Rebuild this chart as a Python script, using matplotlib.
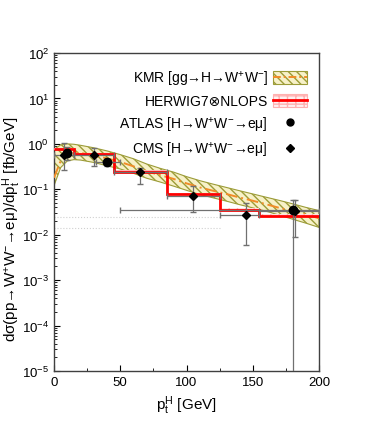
import matplotlib
matplotlib.use("Agg")
import matplotlib.pyplot as plt
from matplotlib.patches import Patch
from matplotlib.lines import Line2D
from matplotlib.ticker import LogLocator, MultipleLocator, NullFormatter

plt.rcParams['font.family'] = ['Liberation Sans', 'DejaVu Sans']
plt.rcParams['mathtext.fontset'] = 'custom'
plt.rcParams['mathtext.rm'] = 'Liberation Sans'
plt.rcParams['mathtext.it'] = 'Liberation Sans'
plt.rcParams['mathtext.default'] = 'regular'

# KMR prediction (central + uncertainty band)
kmr_pt = [0, 5, 10, 15, 20, 30, 40, 50, 60, 70, 80, 90, 100, 110, 120, 130, 140, 150, 160, 170, 180, 190, 200]
kmr_central = [0.18, 0.42, 0.60, 0.65, 0.63, 0.56, 0.48, 0.40, 0.32, 0.25, 0.205, 0.17, 0.135, 0.11, 0.093,
               0.079, 0.066, 0.056, 0.047, 0.039, 0.033, 0.028, 0.023]
kmr_upper = [0.75, 0.95, 1.0, 0.98, 0.93, 0.82, 0.70, 0.58, 0.47, 0.36, 0.29, 0.24, 0.19, 0.155, 0.13,
             0.11, 0.093, 0.079, 0.067, 0.057, 0.048, 0.040, 0.034]
kmr_lower = [0.12, 0.30, 0.42, 0.45, 0.44, 0.39, 0.33, 0.28, 0.225, 0.175, 0.145, 0.118, 0.095, 0.077, 0.065,
             0.055, 0.046, 0.039, 0.033, 0.027, 0.022, 0.018, 0.0145]

# HERWIG7 (x) NLOPS histogram
hw_edges = [0, 15, 45, 85, 125, 155, 200]
hw_values = [0.77, 0.60, 0.245, 0.079, 0.0355, 0.0262]

# ATLAS data
atlas_x = [10, 40, 180]
atlas_y = [0.62, 0.39, 0.035]
atlas_ylo = [0.45, 0.33, 1e-7]
atlas_yhi = [0.85, 0.46, 0.059]
atlas_xlo = [0, 8, 130]
atlas_xhi = [0, 10, 120]

# CMS data
cms_x = [7.5, 30, 65, 105, 145, 182]
cms_y = [0.57, 0.58, 0.237, 0.072, 0.0275, 0.033]
cms_ylo = [0.27, 0.32, 0.13, 0.031, 0.0059, 0.0088]
cms_yhi = [1.05, 0.81, 0.29, 0.116, 0.049, 0.059]
cms_bins = [(0, 15), (15, 45), (45, 85), (85, 125), (125, 155), (155, 200)]

fig = plt.figure(figsize=(3.74, 4.27), dpi=100)
ax = fig.add_axes([0.1444, 0.1288, 0.7086, 0.7447])

# faint dotted guide lines
ax.hlines([0.024, 0.0138], 0, 125, colors='#d0d0d0', linestyles=':', lw=0.8)

ax.fill_between(kmr_pt, kmr_lower, kmr_upper, facecolor='#f7f1c8', edgecolor='#9c9c38',
                hatch='\\\\\\\\', lw=0.8, zorder=2)
ax.plot(kmr_pt, kmr_central, color='#f08c28', lw=1.4, ls=(0, (6, 2, 1, 2)), zorder=3)

hw_lo = [v * 0.93 for v in hw_values]
hw_hi = [v * 1.07 for v in hw_values]
ax.stairs(hw_hi, hw_edges, baseline=hw_lo, fill=True, facecolor='#ffe0e0', edgecolor='#ffb0b0',
          hatch='++', lw=0, zorder=3)
ax.stairs(hw_values, hw_edges, baseline=None, color='#ff0000', lw=2.0, zorder=4)

ecol = '#707070'
ax.errorbar(atlas_x, atlas_y,
            yerr=[[y - l for y, l in zip(atlas_y, atlas_ylo)], [h - y for y, h in zip(atlas_y, atlas_yhi)]],
            xerr=[atlas_xlo, atlas_xhi],
            fmt='o', color='black', ms=6, ecolor=ecol, elinewidth=0.9, capsize=2.5, zorder=5)
ax.errorbar(cms_x, cms_y,
            yerr=[[y - l for y, l in zip(cms_y, cms_ylo)], [h - y for y, h in zip(cms_y, cms_yhi)]],
            xerr=[[x - b[0] for x, b in zip(cms_x, cms_bins)], [b[1] - x for x, b in zip(cms_x, cms_bins)]],
            fmt='D', color='black', ms=4.5, ecolor=ecol, elinewidth=0.9, capsize=2.5, zorder=5)

ax.set_yscale('log')
ax.set_xlim(0, 200)
ax.set_ylim(1e-5, 1e2)
ax.xaxis.set_major_locator(MultipleLocator(50))
ax.xaxis.set_minor_locator(MultipleLocator(25))
ax.yaxis.set_major_locator(LogLocator(base=10, numticks=20))
ax.yaxis.set_minor_locator(LogLocator(base=10, subs=range(2, 10), numticks=20))
ax.yaxis.set_minor_formatter(NullFormatter())
ax.tick_params(which='both', direction='in', top=False, right=False, labelsize=9.5, colors='black')
ax.tick_params(which='major', length=4)
ax.tick_params(which='minor', length=2)
for s in ax.spines.values():
    s.set_color('#404040')
    s.set_linewidth(1.0)

ax.set_xlabel('p$_{t}^{H}$ [GeV]', fontsize=11)
ax.set_ylabel('d\u03c3(pp\u2192W$^{+}$W$^{-}$\u2192e\u03bc)/dp$_{t}^{H}$ [fb/GeV]', fontsize=11)
ax.yaxis.set_label_coords(-0.118, 0.45)

h_kmr = (Patch(facecolor='#f7f1c8', edgecolor='#9c9c38', hatch='\\\\\\\\', lw=0.8),
         Line2D([], [], color='#f08c28', lw=1.4, ls=(0, (4, 1.5, 1, 1.5))))
h_hw = (Patch(facecolor='#fff0f0', edgecolor='#ffb0b0', hatch='++', lw=0.8),
        Line2D([], [], color='#ff0000', lw=2.0))
h_atlas = Line2D([], [], marker='o', color='black', ls='none', ms=5)
h_cms = Line2D([], [], marker='D', color='black', ls='none', ms=4.5)
ax.legend([h_kmr, h_hw, h_atlas, h_cms],
          ['KMR [gg\u2192H\u2192W$^{+}$W$^{-}$]', 'HERWIG7\u2297NLOPS',
           'ATLAS [H\u2192W$^{+}$W$^{-}$\u2192e\u03bc]', 'CMS [H\u2192W$^{+}$W$^{-}$\u2192e\u03bc]'],
          loc='upper right', frameon=False, markerfirst=False, fontsize=10,
          handlelength=2.4, handleheight=1.1, labelspacing=0.45, handletextpad=0.4,
          bbox_to_anchor=(1.0, 0.99))

fig.savefig('out.png', dpi=100)
